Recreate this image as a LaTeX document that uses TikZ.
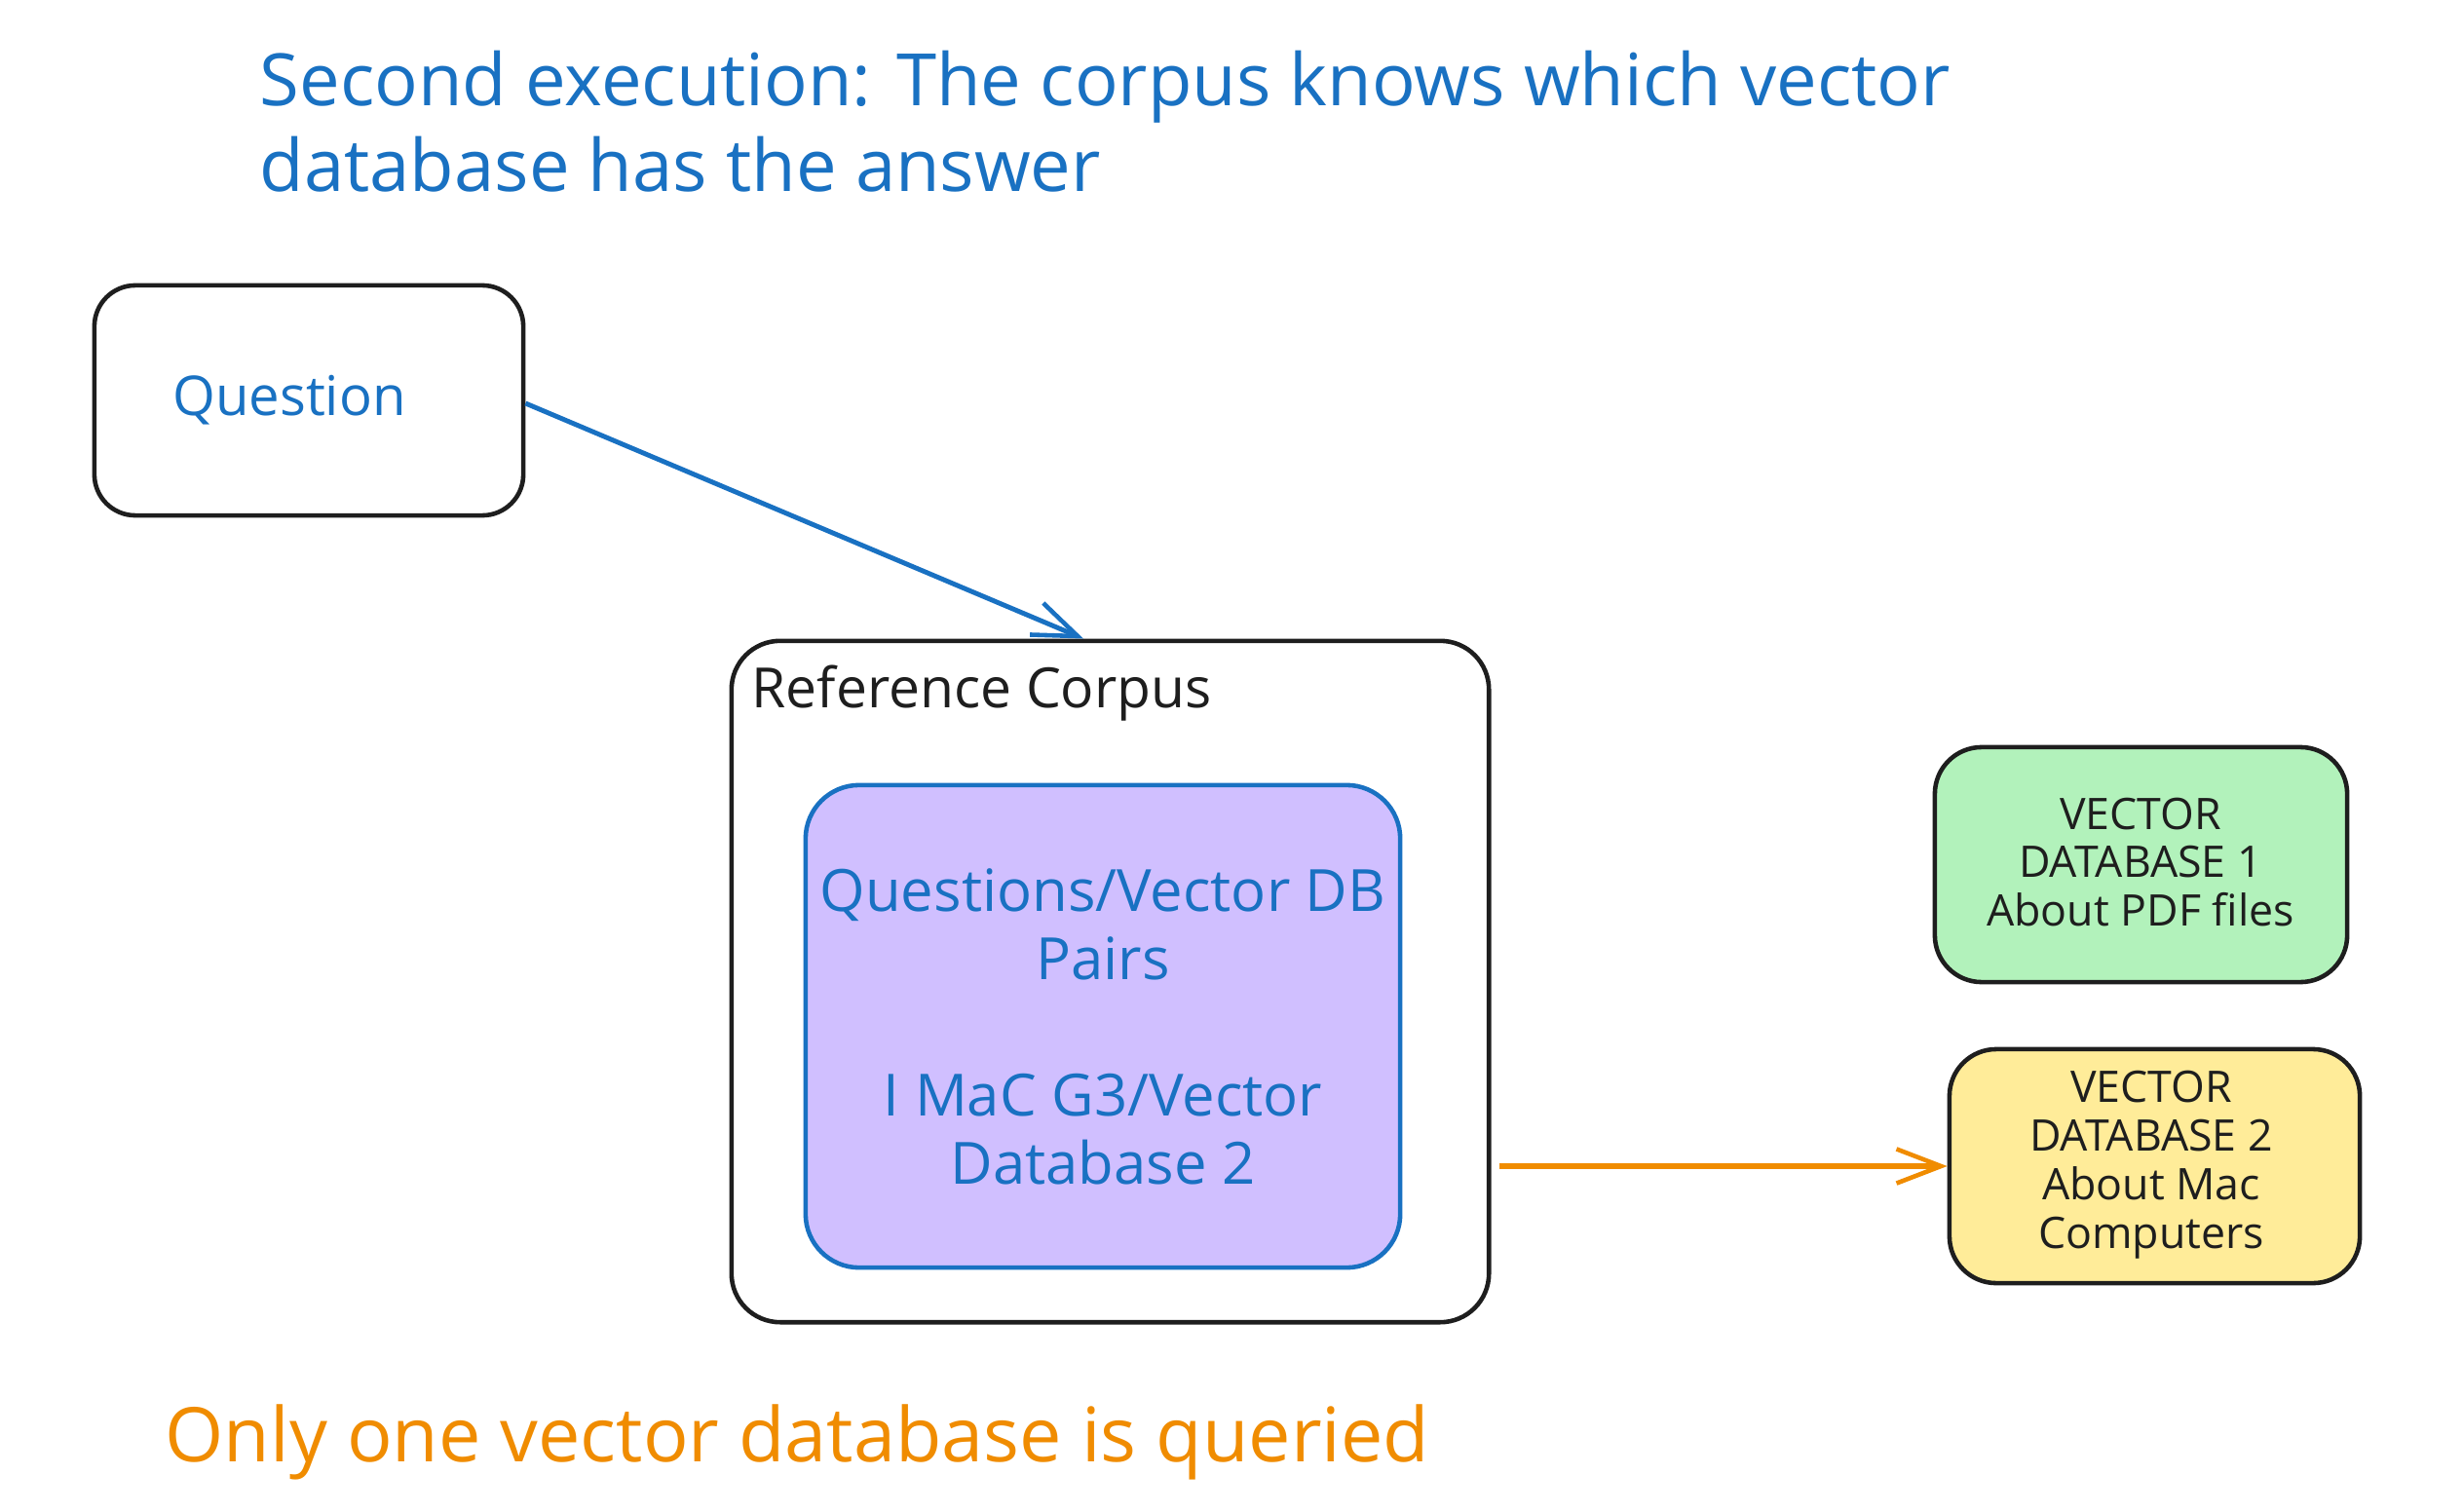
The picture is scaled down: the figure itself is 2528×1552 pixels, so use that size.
\documentclass[tikz,border=0pt]{standalone}
\usepackage{fontspec}
\setmainfont{Open Sans}
\usetikzlibrary{arrows.meta,calc}
\definecolor{exblue}{HTML}{1971C2}
\definecolor{exorange}{HTML}{F08C00}
\definecolor{exblack}{HTML}{1E1E1E}
\definecolor{expurple}{HTML}{D0BFFF}
\definecolor{exgreen}{HTML}{B2F2BB}
\definecolor{exyellow}{HTML}{FFEC99}
\begin{document}
\begin{tikzpicture}[x=0.01cm,y=-0.01cm,
  box/.style={draw=exblack, line width=1.3pt, inner sep=0pt, rounded corners=0.42cm},
  dbtext/.style={text=exblack, align=center, font=\fontsize{12.7}{14.2}\selectfont},
  conn/.style={line width=1.4pt, -{Straight Barb[length=13pt,width=10pt,line width=1.3pt]}},
  bigtext/.style={align=left, inner sep=0pt}
]
\useasboundingbox[fill=white] (0,0) rectangle (2528,1552);

% title
\node[bigtext, text=exblue, anchor=west, font=\fontsize{21.1}{25}\selectfont] (title) at (266,125)
  {Second execution: The corpus knows which vector\\database has the answer};

% question box
\node[box, minimum width=4.4cm, minimum height=2.36cm] (q) at (317,411) {};
\node[text=exblue, font=\fontsize{16}{19}\selectfont] (qt) at (297,411) {Question};

% reference corpus
\node[box, minimum width=7.77cm, minimum height=6.99cm, rounded corners=0.5cm] (rc) at (1139.5,1007.5) {};
\node[text=exblack, anchor=west, inner sep=0pt, font=\fontsize{16.2}{19}\selectfont] (rcl) at (771,712) {Reference Corpus};

% purple inner box
\node[draw=exblue, fill=expurple, line width=1.3pt, rounded corners=0.55cm,
      minimum width=6.10cm, minimum height=4.95cm, inner sep=0pt,
      text=exblue, align=center, font=\fontsize{17}{19.9}\selectfont] (pp) at (1132,1053.5)
  {Questions/Vector DB\\Pairs\\[19.9pt]I MaC G3/Vector\\Database 2};

% vector databases
\node[box, fill=exgreen, minimum width=4.23cm, minimum height=2.41cm, rounded corners=0.48cm] (db1) at (2197.5,887.5) {};
\node[dbtext] (db1t) at (2197,885) {VECTOR\\DATABASE 1\\About PDF files};

\node[box, fill=exyellow, minimum width=4.21cm, minimum height=2.40cm, rounded corners=0.48cm] (db2) at (2211.5,1197) {};
\node[dbtext] (db2t) at (2208,1196) {VECTOR\\DATABASE 2\\About Mac\\Computers};

% connectors
\draw[conn, exblue] ([yshift=-0.03cm]q.east) -- ([xshift=-0.275cm]rc.north);
\draw[conn, exorange, line width=1.6pt] ([xshift=0.08cm]rc.east |- db2.west) -- (db2.west);

% bottom note
\node[bigtext, text=exorange, anchor=west, font=\fontsize{22}{26}\selectfont] (note) at (169,1480) {Only one vector database is queried};
\end{tikzpicture}
\end{document}
